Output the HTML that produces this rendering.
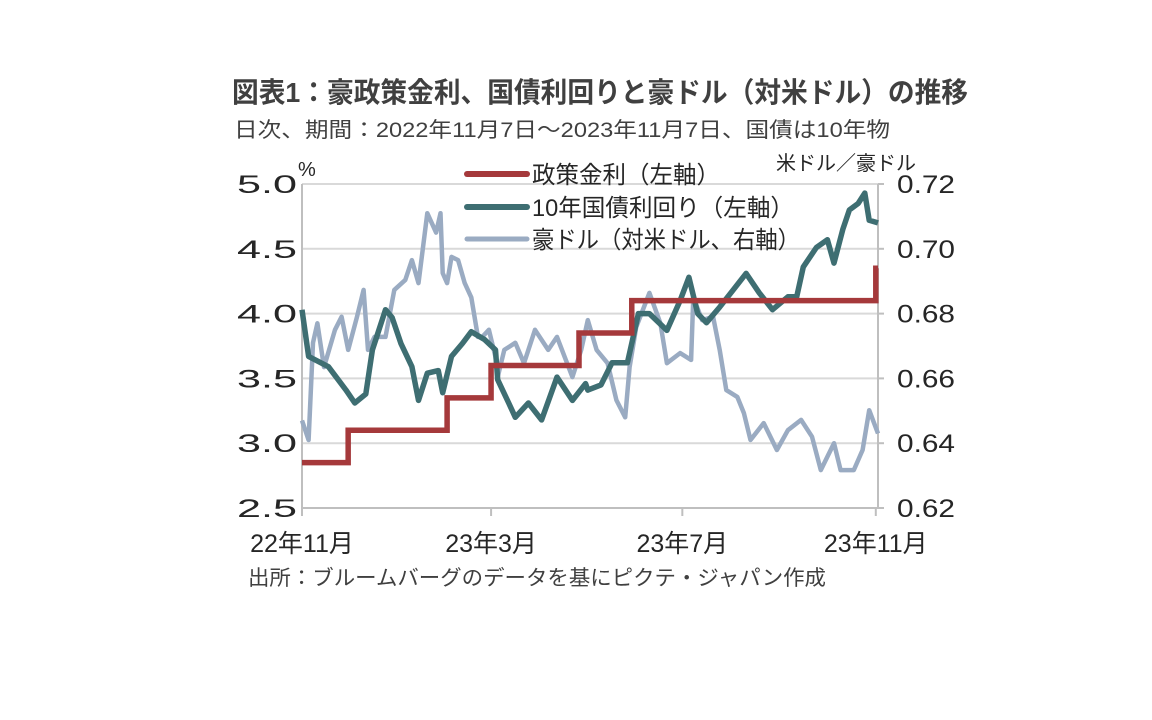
<!DOCTYPE html>
<html><head><meta charset="utf-8">
<style>
html,body{margin:0;padding:0;background:#fff;}
svg{display:block;font-family:"Liberation Sans","Noto Sans CJK JP",sans-serif;}
</style></head>
<body>
<svg id="chart" width="1152" height="720" viewBox="0 0 1152 720" xmlns="http://www.w3.org/2000/svg">
<rect width="1152" height="720" fill="#fff"/>
<text x="232" y="102" font-size="28" font-weight="bold" fill="#404040" textLength="736" lengthAdjust="spacingAndGlyphs">図表1：豪政策金利、国債利回りと豪ドル（対米ドル）の推移</text>
<text x="234" y="137" font-size="21" fill="#404040" textLength="656" lengthAdjust="spacingAndGlyphs">日次、期間：2022年11月7日～2023年11月7日、国債は10年物</text>
<g id="grid"></g>
<g id="axes"></g>
<g id="series"></g>
<g id="legend">
<line x1="467" y1="174" x2="527" y2="174" stroke="#a5393b" stroke-width="6" stroke-linecap="round"/>
<text x="532" y="183" font-size="24" fill="#262626" textLength="188" lengthAdjust="spacingAndGlyphs">政策金利（左軸）</text>
<line x1="467" y1="207" x2="527" y2="207" stroke="#3e6e72" stroke-width="6" stroke-linecap="round"/>
<text x="532" y="216" font-size="24" fill="#262626" textLength="262" lengthAdjust="spacingAndGlyphs">10年国債利回り（左軸）</text>
<line x1="467" y1="239" x2="527" y2="239" stroke="#9aabc2" stroke-width="5" stroke-linecap="round"/>
<text x="532" y="248" font-size="24" fill="#262626" textLength="268" lengthAdjust="spacingAndGlyphs">豪ドル（対米ドル、右軸）</text>
</g>
<text x="298" y="176" font-size="20" fill="#262626">%</text>
<text x="776" y="170" font-size="20" fill="#262626" textLength="140" lengthAdjust="spacingAndGlyphs">米ドル／豪ドル</text>
<text x="248" y="585" font-size="21" fill="#404040" textLength="578" lengthAdjust="spacingAndGlyphs">出所：ブルームバーグのデータを基にピクテ・ジャパン作成</text>
</svg>
<script>
const leftTicks = [2.5, 3.0, 3.5, 4.0, 4.5, 5.0];
const leftTickLabels = ["2.5","3.0","3.5","4.0","4.5","5.0"];
const rightTickLabels = ["0.62","0.64","0.66","0.68","0.70","0.72"];
const rightTicks = [0.62, 0.64, 0.66, 0.68, 0.70, 0.72];
const xTickDays = [0, 86, 173, 261];
const xTickLabels = ["22年11月","23年3月","23年7月","23年11月"];
const policyChangeDays = [0, 21, 66, 86, 126, 150, 261, 262];
const policyRates = [2.85, 3.10, 3.35, 3.60, 3.85, 4.10, 4.35, 4.35];
const yieldDays = [0,3,12,20,24,29,32,38,41,45,50,53,57,62,64,68,73,77,83,88,89,94,97,103,109,116,123,129,130,136,141,148,153,158,166,172,176,180,184,190,196,202,208,214,221,225,228,234,239,242,246,249,253,256,258,262];
const yieldValues = [4.03,3.67,3.59,3.41,3.31,3.38,3.72,4.03,3.97,3.77,3.59,3.33,3.54,3.56,3.39,3.67,3.77,3.86,3.8,3.72,3.49,3.31,3.2,3.31,3.18,3.51,3.33,3.46,3.41,3.45,3.62,3.62,4.0,4.0,3.87,4.1,4.28,4.0,3.93,4.05,4.18,4.31,4.16,4.03,4.13,4.13,4.36,4.51,4.57,4.39,4.65,4.8,4.85,4.93,4.72,4.7];
const audDays = [0,3,5,7,10,15,18,21,25,28,30,33,38,42,47,50,53,57,61,63,64,66,68,71,74,77,80,82,85,88,89,92,97,101,106,112,116,123,127,130,134,139,143,147,149,152,158,163,166,172,177,178,182,187,190,193,198,201,204,210,216,221,227,232,236,242,245,251,255,258,262];
const audValues = [0.647,0.641,0.671,0.677,0.6635,0.675,0.679,0.6688,0.679,0.6873,0.6688,0.6728,0.6728,0.6873,0.6904,0.6965,0.6894,0.711,0.705,0.711,0.6925,0.6894,0.6975,0.6965,0.6894,0.685,0.6728,0.6728,0.675,0.6666,0.6604,0.6688,0.671,0.6647,0.675,0.6688,0.6728,0.6604,0.6688,0.678,0.6688,0.6647,0.6533,0.648,0.6635,0.6758,0.6864,0.677,0.6647,0.6678,0.6657,0.685,0.678,0.679,0.6688,0.6564,0.6543,0.6493,0.641,0.6462,0.6379,0.644,0.6472,0.642,0.6317,0.64,0.6317,0.6317,0.6379,0.6502,0.643];

const NS = "http://www.w3.org/2000/svg";
const X0 = 302, X1 = 878, DMAX = 262;
const Y0 = 508, Y1 = 184;
const xScale = d => X0 + (d / DMAX) * (X1 - X0);
const yLeft = v => Y0 - (v - 2.5) / 2.5 * (Y0 - Y1);
const yRight = v => Y0 - (v - 0.62) / 0.10 * (Y0 - Y1);
function mk(tag, attrs, parent) {
  const el = document.createElementNS(NS, tag);
  for (const k in attrs) el.setAttribute(k, attrs[k]);
  parent.appendChild(el);
  return el;
}
const grid = document.getElementById('grid');
const axes = document.getElementById('axes');
const series = document.getElementById('series');
leftTicks.forEach((v, i) => {
  const y = yLeft(v);
  if (i > 0) {
    const g = mk('line', {x1: X0, x2: X1, y1: y, y2: y, stroke: '#d9d9d9', 'stroke-width': 2}, grid);
    
    
  }
  const t = mk('text', {x: X0 - 5, y: y + 9, 'text-anchor': 'end', 'font-size': 25, fill: '#262626', textLength: 60, lengthAdjust: 'spacingAndGlyphs'}, axes);
  t.textContent = leftTickLabels[i];
  
  
});
rightTicks.forEach((v, i) => {
  const y = yRight(v);
  mk('line', {x1: X1, x2: X1 + 6, y1: y, y2: y, stroke: '#bfbfbf', 'stroke-width': 2}, axes);
  const t = mk('text', {x: X1 + 19, y: y + 9, 'font-size': 25, fill: '#262626', textLength: 58, lengthAdjust: 'spacingAndGlyphs'}, axes);
  t.textContent = rightTickLabels[i];
  
  
});
const la = mk('line', {x1: X0, x2: X0, y1: Y1, y2: Y0, stroke: '#bfbfbf', 'stroke-width': 2}, axes);


const ra = mk('line', {x1: X1, x2: X1, y1: Y1, y2: Y0, stroke: '#bfbfbf', 'stroke-width': 2}, axes);


const xa = mk('line', {x1: X0, x2: X1, y1: Y0, y2: Y0, stroke: '#bfbfbf', 'stroke-width': 2}, axes);


xTickDays.forEach((d, i) => {
  const x = xScale(d);
  mk('line', {x1: x, x2: x, y1: Y0, y2: Y0 + 8, stroke: '#bfbfbf', 'stroke-width': 2}, axes);
  const t = mk('text', {x: x, y: Y0 + 44, 'text-anchor': 'middle', 'font-size': 25, fill: '#262626'}, axes);
  t.textContent = xTickLabels[i];
  
  
});
let p = audDays.map((d, i) => (i ? 'L' : 'M') + xScale(d).toFixed(1) + ' ' + yRight(audValues[i]).toFixed(1)).join(' ');
const aud = mk('path', {d: p, fill: 'none', stroke: '#9aabc2', 'stroke-width': 4.5, 'stroke-linejoin': 'round'}, series);


p = yieldDays.map((d, i) => (i ? 'L' : 'M') + xScale(d).toFixed(1) + ' ' + yLeft(yieldValues[i]).toFixed(1)).join(' ');
const yl = mk('path', {d: p, fill: 'none', stroke: '#3e6e72', 'stroke-width': 5.5, 'stroke-linejoin': 'round'}, series);


p = '';
policyChangeDays.forEach((d, i) => {
  const x = xScale(d), y = yLeft(policyRates[i]);
  if (i === 0) p += 'M' + x + ' ' + y;
  else p += ' L' + x + ' ' + yLeft(policyRates[i - 1]) + ' L' + x + ' ' + y;
});
const pr = mk('path', {d: p, fill: 'none', stroke: '#a5393b', 'stroke-width': 5.5}, series);


</script>
</body></html>
